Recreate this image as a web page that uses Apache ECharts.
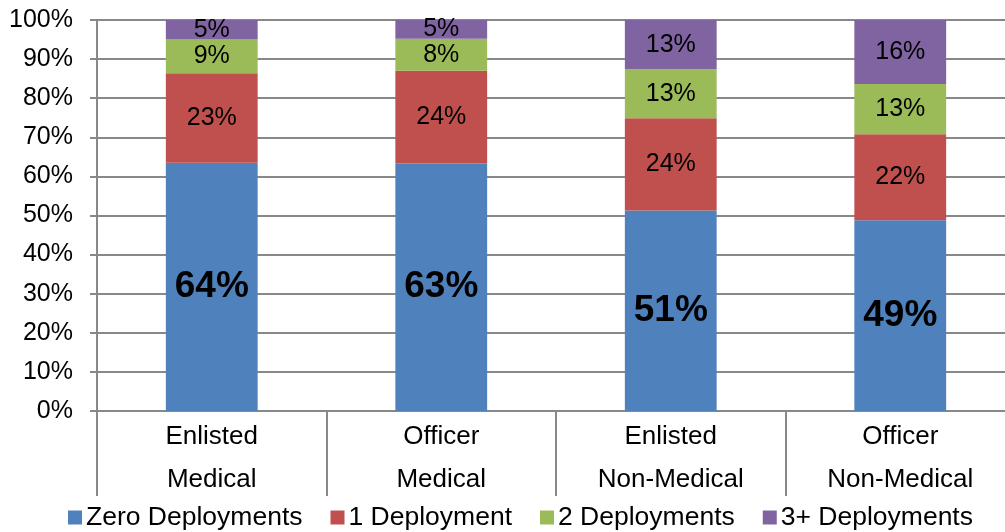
<!DOCTYPE html>
<html>
<head>
<meta charset="utf-8">
<script src="https://cdn.jsdelivr.net/npm/echarts@6/dist/echarts.min.js"></script>
<style>html,body{margin:0;padding:0;background:#fff;}#c{width:1005px;height:532px;}</style>
</head>
<body>
<div id="c"></div>
<script>
const categories = ["Enlisted\nMedical", "Officer\nMedical", "Enlisted\nNon-Medical", "Officer\nNon-Medical"];
const seriesNames = ["Zero Deployments", "1 Deployment", "2 Deployments", "3+ Deployments"];
const zeroDeployments = [63.5, 63.3, 51.3, 48.8];
const oneDeployment = [22.9, 23.7, 23.6, 22.0];
const twoDeployments = [8.6, 8.2, 12.5, 12.8];
const threePlusDeployments = [5.0, 4.8, 12.6, 16.4];
const colors = ["#4f81bd", "#c0504d", "#9bbb59", "#8064a2"];
const yTicks = [0, 10, 20, 30, 40, 50, 60, 70, 80, 90, 100];

const font = "'Liberation Sans', Arial, sans-serif";
const allData = [zeroDeployments, oneDeployment, twoDeployments, threePlusDeployments];

const series = allData.map((d, i) => ({
  name: seriesNames[i],
  type: 'bar',
  stack: 'total',
  barWidth: '40%',
  data: d,
  itemStyle: { color: colors[i] },
  label: {
    show: true,
    position: 'inside',
    color: '#000',
    fontFamily: font,
    fontSize: i === 0 ? 37 : 25,
    fontWeight: i === 0 ? 'bold' : 'normal',
    formatter: p => Math.round(p.value) + '%'
  }
}));

const chart = echarts.init(document.getElementById('c'), null, { renderer: 'canvas' });
chart.setOption({
  animation: false,
  color: colors,
  grid: { left: 97, width: 918, top: 20, bottom: 121, containLabel: false, outerBoundsMode: 'none' },
  legend: {
    data: seriesNames,
    left: 63,
    top: 499,
    itemWidth: 14,
    itemHeight: 14,
    itemGap: 28,
    icon: 'rect',
    textStyle: { fontFamily: font, fontSize: 26.5, color: '#000', padding: [0, 0, 0, -1] }
  },
  xAxis: {
    type: 'category',
    data: categories,
    axisLine: { show: true, lineStyle: { color: '#888', width: 2 } },
    axisTick: { show: true, alignWithLabel: false, length: 85, lineStyle: { color: '#888', width: 2 } },
    axisLabel: { fontFamily: font, fontSize: 26, color: '#000', lineHeight: 43, margin: 4, interval: 0 },
    splitLine: { show: false }
  },
  yAxis: {
    type: 'value',
    min: 0,
    max: 100,
    interval: 10,
    axisLine: { show: true, lineStyle: { color: '#888', width: 2 } },
    axisTick: { show: true, length: 7, lineStyle: { color: '#888', width: 2 } },
    axisLabel: { fontFamily: font, fontSize: 25, color: '#000', margin: 24, formatter: v => v + '%' },
    splitLine: { show: true, lineStyle: { color: '#888', width: 2 } }
  },
  series: series
});
</script>
</body>
</html>
